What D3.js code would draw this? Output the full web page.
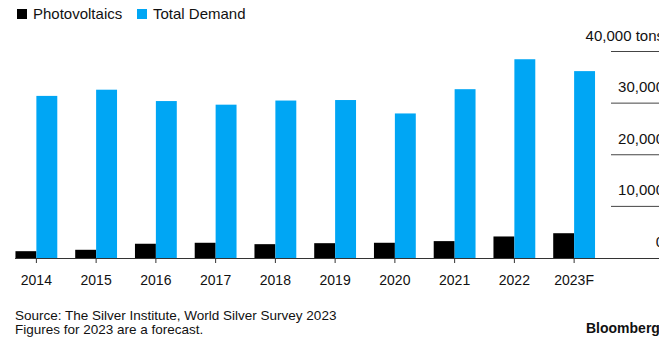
<!DOCTYPE html>
<html>
<head>
<meta charset="utf-8">
<script src="https://cdn.jsdelivr.net/npm/d3@7"></script>
<style>
  body { margin: 0; background: #fff; }
  svg { display: block; font-family: 'Liberation Sans', Arial, sans-serif; }
</style>
</head>
<body>
<div id="chart"></div>
<script>
const years = ['2014', '2015', '2016', '2017', '2018', '2019', '2020', '2021', '2022', '2023F'];
const photovoltaics = [1320, 1590, 2760, 2950, 2680, 2870, 2950, 3270, 4170, 4800];
const totalDemand = [31400, 32600, 30400, 29700, 30500, 30600, 28000, 32700, 38500, 36200];
const yTicks = [0, 10000, 20000, 30000, 40000];
const seriesNames = ['Photovoltaics', 'Total Demand'];
const seriesColors = ['#000000', '#00a6f4'];

const w = 659;
const h = 337;

const svg = d3.select('#chart')
  .append('svg')
  .attr('width', w)
  .attr('height', h);

const x = d3.scaleBand()
  .domain(years)
  .range([6.5, 604])
  .paddingInner(0.3)
  .paddingOuter(0.15);

const x1 = d3.scaleBand()
  .domain(seriesNames)
  .range([0, x.bandwidth()]);

const y = d3.scaleLinear()
  .domain([0, 40000])
  .range([258, 51.5]);

// gridlines + labels on the right (cut at the edge, as in the original)
const grid = svg.append('g');
grid.selectAll('line')
  .data(yTicks.filter((d) => d > 0))
  .enter()
  .append('line')
  .attr('x1', 611)
  .attr('x2', w)
  .attr('y1', (d) => y(d))
  .attr('y2', (d) => y(d))
  .attr('stroke', '#444')
  .attr('stroke-width', 1);

grid.selectAll('text')
  .data(yTicks)
  .enter()
  .append('text')
  .attr('x', 664)
  .attr('y', (d) => y(d) - 11)
  .attr('text-anchor', 'end')
  .attr('font-size', 15)
  .attr('fill', '#111')
  .text((d) => d3.format(',')(d) + (d === 40000 ? ' tons' : ''));

const rows = years.map((yr, i) => ({ year: yr, values: [photovoltaics[i], totalDemand[i]] }));

const groups = svg.selectAll('g.year')
  .data(rows)
  .enter()
  .append('g')
  .attr('class', 'year')
  .attr('transform', (d) => `translate(${x(d.year)},0)`);

groups.selectAll('rect')
  .data((d) => d.values.map((v, i) => ({ name: seriesNames[i], value: v, color: seriesColors[i] })))
  .enter()
  .append('rect')
  .attr('x', (d) => x1(d.name))
  .attr('width', x1.bandwidth())
  .attr('y', (d) => y(d.value))
  .attr('height', (d) => y(0) - y(d.value))
  .attr('fill', (d) => d.color);

// baseline axis
const axis = svg.append('g');
axis.append('line')
  .attr('x1', 15)
  .attr('x2', w)
  .attr('y1', y(0) + 0.5)
  .attr('y2', y(0) + 0.5)
  .attr('stroke', '#333')
  .attr('stroke-width', 1);

axis.selectAll('line.tick')
  .data(years)
  .enter()
  .append('line')
  .attr('class', 'tick')
  .attr('x1', (d) => x(d) + x.bandwidth() / 2)
  .attr('x2', (d) => x(d) + x.bandwidth() / 2)
  .attr('y1', y(0))
  .attr('y2', y(0) + 5)
  .attr('stroke', '#333');

axis.selectAll('text')
  .data(years)
  .enter()
  .append('text')
  .attr('x', (d) => x(d) + x.bandwidth() / 2)
  .attr('y', 285)
  .attr('text-anchor', 'middle')
  .attr('font-size', 14)
  .attr('fill', '#111')
  .text((d) => d);

// legend
const legend = svg.append('g');
const legendX = [17, 137];
seriesNames.forEach((name, i) => {
  legend.append('rect')
    .attr('x', legendX[i])
    .attr('y', 9)
    .attr('width', 10)
    .attr('height', 10)
    .attr('fill', seriesColors[i]);
  legend.append('text')
    .attr('x', legendX[i] + 16)
    .attr('y', 19)
    .attr('font-size', 15)
    .attr('fill', '#111')
    .text(name);
});

// footer
svg.append('text')
  .attr('x', 15)
  .attr('y', 320)
  .attr('font-size', 13.5)
  .attr('fill', '#111')
  .text('Source: The Silver Institute, World Silver Survey 2023');

svg.append('text')
  .attr('x', 15)
  .attr('y', 334)
  .attr('font-size', 13.5)
  .attr('fill', '#111')
  .text('Figures for 2023 are a forecast.');

svg.append('text')
  .attr('x', 586)
  .attr('y', 333)
  .attr('font-size', 14)
  .attr('font-weight', 'bold')
  .attr('fill', '#111')
  .text('Bloomberg');
</script>
</body>
</html>
